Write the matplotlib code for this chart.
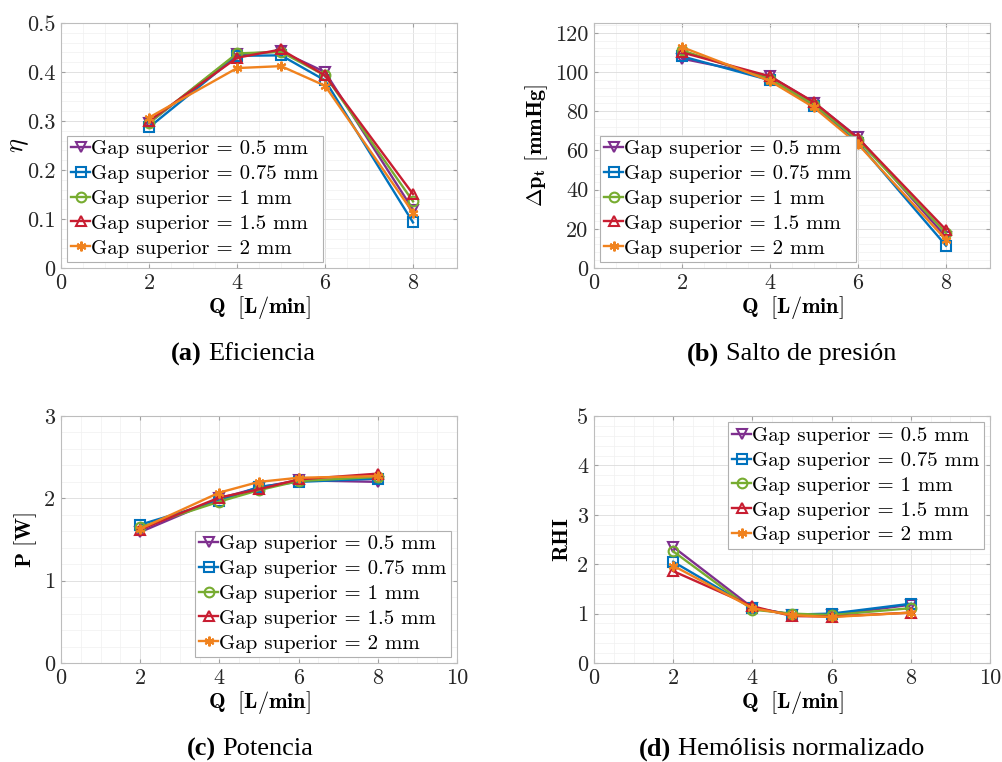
import os
import numpy as np
import matplotlib
matplotlib.use('Agg')
import matplotlib.pyplot as plt
from matplotlib import font_manager
from matplotlib.ticker import AutoMinorLocator, MultipleLocator, FuncFormatter
from matplotlib.offsetbox import TextArea, HPacker, AnchoredOffsetbox

# computer modern from matplotlib's own data folder
ttf_dir = os.path.join(matplotlib.get_data_path(), 'fonts', 'ttf')
for f in ['cmr10.ttf', 'cmb10.ttf', 'cmmi10.ttf']:
    font_manager.fontManager.addfont(os.path.join(ttf_dir, f))

plt.rcParams['font.family'] = ['cmr10', 'DejaVu Serif']
plt.rcParams['mathtext.fontset'] = 'cm'
plt.rcParams['axes.unicode_minus'] = False

# times-like font for captions
serif_reg = font_manager.findfont(font_manager.FontProperties(family='Liberation Serif'))
serif_bold = font_manager.findfont(font_manager.FontProperties(family='Liberation Serif', weight='bold'))

Q = [2, 4, 5, 6, 8]
labels = ['Gap superior = 0.5 mm', 'Gap superior = 0.75 mm', 'Gap superior = 1 mm',
          'Gap superior = 1.5 mm', 'Gap superior = 2 mm']

# eficiencia
eta_05 = [0.296, 0.436, 0.442, 0.400, 0.119]
eta_075 = [0.287, 0.433, 0.434, 0.383, 0.093]
eta_1 = [0.296, 0.438, 0.441, 0.393, 0.136]
eta_15 = [0.300, 0.429, 0.446, 0.393, 0.151]
eta_2 = [0.307, 0.408, 0.412, 0.372, 0.113]

# salto de presion [mmHg]
dp_05 = [106.8, 97.8, 84.4, 66.6, 15.8]
dp_075 = [108.0, 95.8, 82.5, 63.9, 11.4]
dp_1 = [111.0, 96.4, 83.4, 65.3, 17.8]
dp_15 = [110.0, 97.8, 84.6, 66.3, 19.5]
dp_2 = [112.7, 95.4, 81.9, 63.2, 14.4]

# potencia [W]
P_05 = [1.59, 2.00, 2.13, 2.22, 2.20]
P_075 = [1.68, 1.97, 2.14, 2.20, 2.24]
P_1 = [1.65, 1.96, 2.10, 2.21, 2.26]
P_15 = [1.62, 2.01, 2.11, 2.23, 2.30]
P_2 = [1.63, 2.07, 2.20, 2.25, 2.27]

# hemolisis normalizado
RHI_05 = [2.35, 1.12, 0.98, 0.97, 1.18]
RHI_075 = [2.05, 1.11, 0.98, 1.00, 1.20]
RHI_1 = [2.26, 1.08, 1.00, 0.97, 1.11]
RHI_15 = [1.86, 1.15, 0.95, 0.94, 1.02]
RHI_2 = [1.97, 1.11, 0.97, 0.93, 1.02]

colors = ['#7E2F8E', '#0072BD', '#77AC30', '#C81D31', '#F0821E']
markers = ['v', 's', 'o', '^', (6, 2, 0)]

W, H = 1003, 762
fig = plt.figure(figsize=(W/100., H/100.), dpi=100)

def px_axes(l, t, r, b):
    return fig.add_axes([l/W, 1 - b/H, (r - l)/W, (b - t)/H])

fmt = FuncFormatter(lambda v, p: '%g' % round(v, 6))

def draw(ax, series, xlim, ylim, ymaj, ylabel, legloc, ylsize=16):
    for i, s in enumerate(series):
        ax.plot(Q, s, color=colors[i], marker=markers[i], mfc='none', mec=colors[i],
                ms=7, mew=1.5, lw=1.7, label=labels[i])
    ax.set_xlim(xlim)
    ax.set_ylim(ylim)
    ax.xaxis.set_major_locator(MultipleLocator(2))
    ax.yaxis.set_major_locator(MultipleLocator(ymaj))
    ax.xaxis.set_minor_locator(AutoMinorLocator(4))
    ax.yaxis.set_minor_locator(AutoMinorLocator(5))
    ax.xaxis.set_major_formatter(fmt)
    ax.yaxis.set_major_formatter(fmt)
    ax.grid(True, which='major', color='#dcdcdc', lw=0.6)
    ax.grid(True, which='minor', color='#f0f0f0', lw=0.5)
    ax.set_axisbelow(True)
    for sp in ax.spines.values():
        sp.set_color('#bdbdbd')
        sp.set_linewidth(0.8)
    ax.tick_params(which='both', direction='in', colors='#a0a0a0', labelcolor='#262626',
                   labelsize=16, top=True, right=True)
    ax.tick_params(which='major', length=3, pad=4)
    ax.tick_params(which='minor', length=0)
    ax.set_xlabel(r'$\mathbf{Q\ \ [L/min]}$', fontsize=16, labelpad=1)
    ax.set_ylabel(ylabel, fontsize=ylsize, labelpad=4)
    leg = ax.legend(loc=legloc, fontsize=15, fancybox=False,
                    framealpha=1, edgecolor='#b0b0b0', handlelength=0.9,
                    handletextpad=0.05, labelspacing=0.3, borderpad=0.2,
                    borderaxespad=0.3)
    leg.get_frame().set_linewidth(0.8)

ax1 = px_axes(61, 23, 457, 268)
draw(ax1, [eta_05, eta_075, eta_1, eta_15, eta_2], (0, 9), (0, 0.5), 0.1,
     r'$\eta$', 'lower left', ylsize=19)
ax1.yaxis.set_label_coords(-0.075, 0.5)
ax2 = px_axes(594, 23, 990, 268)
draw(ax2, [dp_05, dp_075, dp_1, dp_15, dp_2], (0, 9), (0, 125), 20,
     r'$\mathbf{\Delta p_t\ [mmHg]}$', 'lower left')
ax3 = px_axes(61, 416, 457, 663)
draw(ax3, [P_05, P_075, P_1, P_15, P_2], (0, 10), (0, 3), 1,
     r'$\mathbf{P\ [W]}$', 'lower right')
ax4 = px_axes(594, 416, 990, 663)
draw(ax4, [RHI_05, RHI_075, RHI_1, RHI_15, RHI_2], (0, 10), (0, 5), 1,
     r'$\mathbf{RHI}$', 'upper right')

captions = [('(a)', 'Eficiencia', 243, 354), ('(b)', 'Salto de presión', 792, 354),
            ('(c)', 'Potencia', 250, 749), ('(d)', 'Hemólisis normalizado', 782, 749)]
for tag, txt, cx, cy in captions:
    box = HPacker(children=[TextArea(tag, textprops=dict(fontproperties=font_manager.FontProperties(fname=serif_bold, size=19))),
                            TextArea(txt, textprops=dict(fontproperties=font_manager.FontProperties(fname=serif_reg, size=19)))],
                  sep=5, align='baseline')
    ab = AnchoredOffsetbox(loc='center', child=box, pad=0, borderpad=0, frameon=False,
                           bbox_to_anchor=(cx/W, 1 - cy/H), bbox_transform=fig.transFigure)
    fig.add_artist(ab)

fig.savefig('out.png', dpi=100)
